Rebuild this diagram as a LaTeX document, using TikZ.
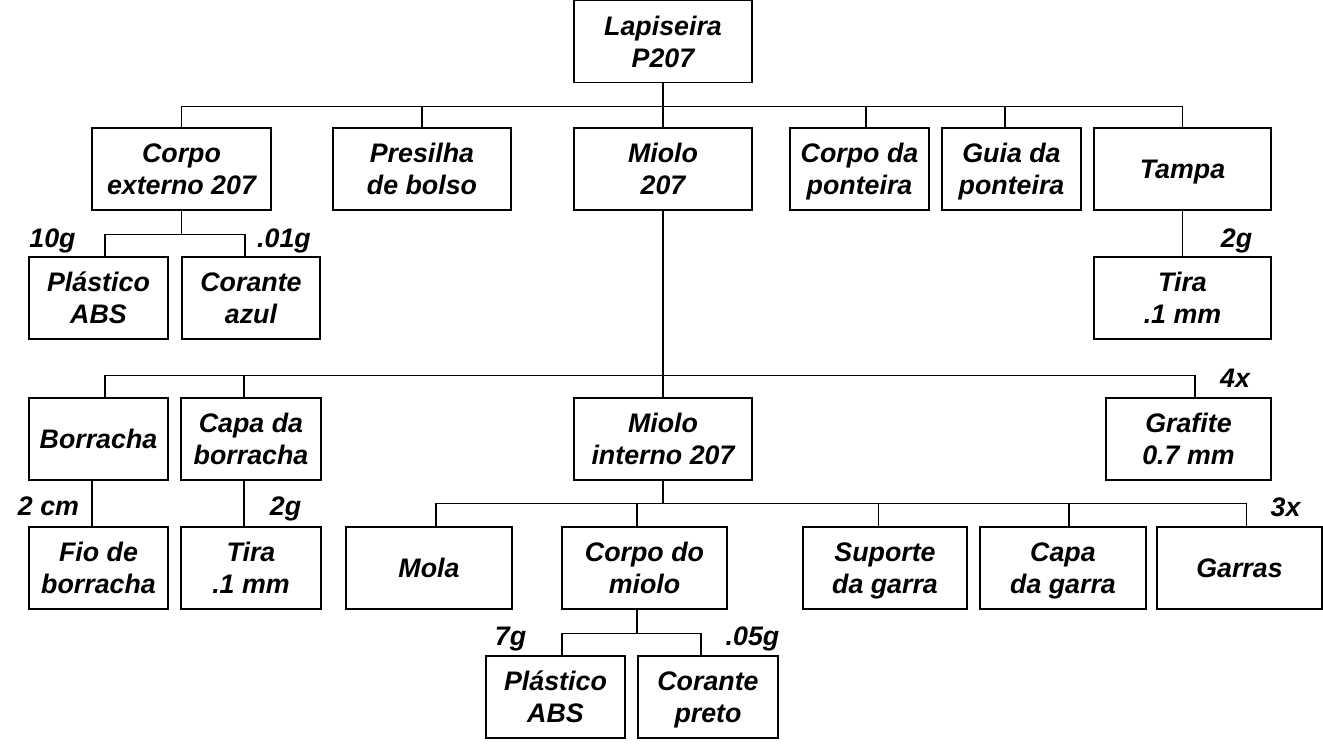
\documentclass[tikz,border=0pt]{standalone}
\usepackage{fontspec}
\setmainfont{Liberation Sans}
\usetikzlibrary{positioning}
\begin{document}
\begin{tikzpicture}[x=1pt, y=-1pt, line width=1.1pt,
    part/.style={draw, rectangle, minimum width=#1, minimum height=82pt,
        inner sep=0pt, align=center, text depth=0pt,
        font=\fontsize{26.8}{32}\selectfont\bfseries\itshape},
    part/.default=139pt,
    qty/.style={anchor=base, inner sep=0pt,
        font=\fontsize{26.8}{32}\selectfont\bfseries\itshape}]
    \useasboundingbox (0,0) rectangle (1323,747);

    \node (L) at (663,41.5) [part=178pt] {Lapiseira\\P207};
    \node (M) [below of=L, node distance=127.5pt, part=178pt] {Miolo\\207};
    \node (PB) [left of=M, node distance=241pt, part=178pt] {Presilha\\de bolso};
    \node (CE) [left of=PB, node distance=240.5pt, part=179pt] {Corpo\\externo 207};
    \node (CP) [right of=M, node distance=196.5pt, part] {Corpo da\\ponteira};
    \node (GP) [right of=CP, node distance=152pt, part] {Guia da\\ponteira};
    \node (T) [right of=GP, node distance=171pt, part=177pt] {Tampa};

    \node (PA) [below of=CE, node distance=129pt, xshift=-83pt, part] {Plástico\\ABS};
    \node (CA) [right of=PA, node distance=152.5pt, part=138pt] {Corante\\azul};
    \node (TT) [below of=T, node distance=129pt, part=177pt] {Tira\\.1 mm};

    \node (MI) [below of=M, node distance=270pt, part=178pt] {Miolo\\interno 207};
    \node (B) [left of=MI, node distance=564.5pt, part] {Borracha};
    \node (CB) [right of=B, node distance=152.5pt, part=140pt] {Capa da\\borracha};
    \node (G) [right of=MI, node distance=525.5pt, part=165pt] {Grafite\\0.7 mm};

    \node (F) [below of=B, node distance=129pt, part] {Fio de\\borracha};
    \node (TB) [below of=CB, node distance=129pt, part=140pt] {Tira\\.1 mm};
    \node (CM) [below of=MI, node distance=129pt, xshift=-18.5pt, part=165pt] {Corpo do\\miolo};
    \node (Mo) [left of=CM, node distance=215.5pt, part=166pt] {Mola};
    \node (SG) [right of=CM, node distance=240.5pt, part=164pt] {Suporte\\da garra};
    \node (CG) [right of=SG, node distance=178pt, part=166pt] {Capa\\da garra};
    \node (Ga) [right of=CG, node distance=176.5pt, part=165pt] {Garras};

    \node (PP) [below of=CM, node distance=129pt, xshift=-89pt, part] {Plástico\\ABS};
    \node (CPr) [right of=PP, node distance=152.5pt, part=140pt] {Corante\\preto};

    \node (PAq) at (52.5,247) [qty] {10g};
    \node (CAq) at (284,247) [qty] {.01g};
    \node (TTq) at (1236.5,247) [qty] {2g};
    \node (Gq) at (1235,387) [qty] {4x};
    \node (Fq) at (48.5,515) [qty] {2 cm};
    \node (TBq) at (285.5,515) [qty] {2g};
    \node (Gaq) at (1285.5,516) [qty] {3x};
    \node (PPq) at (510.5,645) [qty] {7g};
    \node (CPrq) at (752.5,645) [qty] {.05g};

    \draw (L.south) -- ++(0,23) -| (CE.north)
          (L.south) -- ++(0,23) -| (PB.north)
          (L.south) -- ++(0,23) -| ([xshift=6.5pt]CP.north)
          (L.south) -- ++(0,23) -| ([xshift=-6.5pt]GP.north)
          (L.south) -- ++(0,23) -| (T.north)
          (L) -- (M);
    \draw (CE.south) -- ++(0,24) -| ([xshift=6.5pt]PA.north)
          (CE.south) -- ++(0,24) -| ([xshift=-6pt]CA.north)
          (T) -- (TT);
    \draw (M.south) -- ++(0,165) -| ([xshift=6.5pt]B.north)
          (M.south) -- ++(0,165) -| ([xshift=-7pt]CB.north)
          (M.south) -- ++(0,165) -| ([xshift=6.5pt]G.north)
          (M) -- (MI);
    \draw ([xshift=-6.5pt]B.south) -- ([xshift=-6.5pt]F.north)
          ([xshift=-7pt]CB.south) -- ([xshift=-7pt]TB.north);
    \draw (MI.south) -- ++(0,23) -| ([xshift=7pt]Mo.north)
          (MI.south) -- ++(0,23) -| ([xshift=-7.5pt]CM.north)
          (MI.south) -- ++(0,23) -| ([xshift=-6.5pt]SG.north)
          (MI.south) -- ++(0,23) -| ([xshift=6pt]CG.north)
          (MI.south) -- ++(0,23) -| ([xshift=7pt]Ga.north);
    \draw ([xshift=-7.5pt]CM.south) -- ++(0,24) -| ([xshift=6.5pt]PP.north)
          ([xshift=-7.5pt]CM.south) -- ++(0,24) -| ([xshift=-7pt]CPr.north);
\end{tikzpicture}
\end{document}
